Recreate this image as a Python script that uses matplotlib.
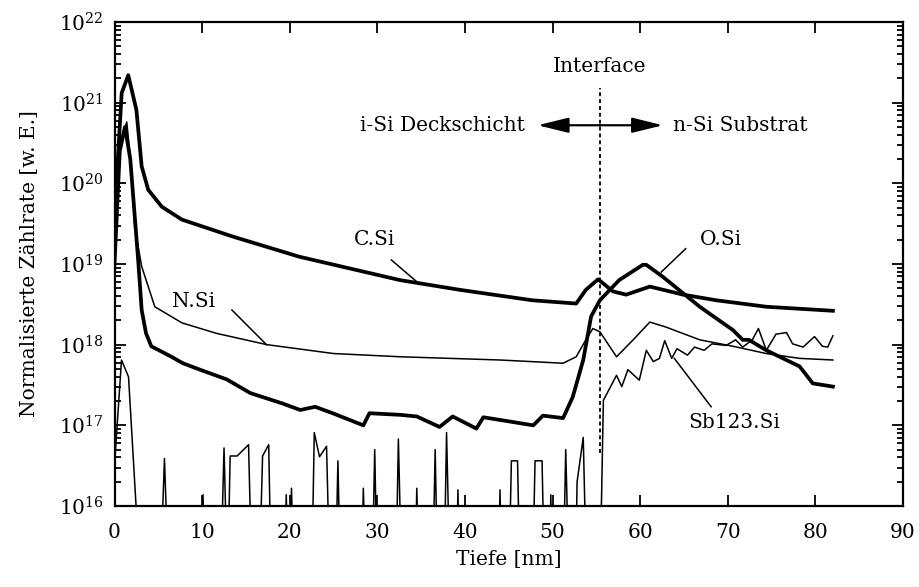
import matplotlib

matplotlib.use("Agg")
import matplotlib.pyplot as plt
from matplotlib.ticker import FixedLocator, NullFormatter
import numpy as np

plt.rcParams["font.family"] = ["DejaVu Serif"]
plt.rcParams["mathtext.fontset"] = "dejavuserif"
plt.rcParams["font.size"] = 14.5

# depth [nm] and log10 of normalised count rate
c_si_x = [0.06, 0.82, 1.57, 2.5, 3.1, 3.85, 5.4, 7.7, 13.5, 21.1, 32.6, 39.4, 47.7,
          52.7, 53.8, 55.2, 56.9, 58.4, 61.1, 64.9, 68.7, 74.4, 82.0]
c_si_log = [19.7, 21.12, 21.34, 20.91, 20.21, 19.92, 19.71, 19.55, 19.34, 19.09,
            18.80, 18.68, 18.55, 18.51, 18.68, 18.81, 18.66, 18.62, 18.72, 18.62,
            18.55, 18.47, 18.42]

o_si_x = [0.0, 0.6, 1.2, 1.8, 2.7, 3.1, 3.6, 4.2, 6.5, 7.8, 9.75, 12.8, 15.5, 19.2,
          21.2, 22.9, 24.9, 28.4, 29.1, 32.6, 34.5, 37.1, 38.6, 41.3, 42.1, 47.8,
          48.9, 51.2, 52.3, 53.5, 54.4, 55.4, 57.6, 60.3, 60.7, 62.6, 66.8, 70.6,
          71.7, 72.4, 74.4, 78.2, 79.7, 82.0]
o_si_log = [19.0, 20.4, 20.7, 20.3, 19.05, 18.43, 18.14, 17.98, 17.85, 17.77, 17.69,
            17.57, 17.40, 17.27, 17.19, 17.23, 17.15, 17.00, 17.15, 17.13, 17.11,
            16.98, 17.11, 16.96, 17.10, 17.00, 17.12, 17.09, 17.35, 17.81, 18.35,
            18.55, 18.80, 18.99, 18.99, 18.84, 18.47, 18.18, 18.06, 18.06, 17.93,
            17.73, 17.52, 17.48]

n_si_x = [0.0, 0.6, 1.4, 1.9, 2.3, 3.1, 4.6, 7.7, 11.65, 17.4, 25.0, 32.6, 44.0,
          51.2, 52.7, 53.8, 54.6, 55.4, 57.3, 59.2, 61.1, 62.9, 66.8, 70.6, 74.4,
          78.2, 82.0]
n_si_log = [19.5, 20.5, 20.76, 20.2, 19.46, 18.97, 18.47, 18.27, 18.14, 18.00,
            17.89, 17.85, 17.81, 17.77, 17.85, 18.06, 18.20, 18.16, 17.85, 18.06,
            18.28, 18.22, 18.06, 17.98, 17.89, 17.83, 17.81]

sb_si_x = [0.06, 0.8, 1.6, 3.0, 5.2, 5.7, 6.2, 9.8, 10.1, 10.4, 12.1, 12.5, 12.9,
           13.2, 14.0, 15.3, 15.7, 16.5, 16.9, 17.6, 17.9, 19.4, 19.6, 19.9, 20.2,
           20.5, 22.5, 22.8, 23.4, 24.2, 24.6, 25.2, 25.5, 25.8, 28.2, 28.4, 28.7,
           29.4, 29.7, 30.0, 32.1, 32.4, 32.8, 34.3, 34.5, 34.8, 36.3, 36.6, 36.9,
           37.6, 37.9, 38.3, 39.0, 39.2, 39.4, 43.8, 44.0, 44.2, 45.0, 45.3, 46.0,
           46.3, 47.7, 48.0, 48.8, 49.1, 49.6, 49.8, 50.0, 51.2, 51.5, 51.9, 52.6,
           52.8, 53.5, 53.9, 55.4, 55.8, 57.3, 57.9, 58.6, 59.9, 60.7, 61.5, 62.2,
           62.8, 63.6, 64.2, 65.4, 66.2, 67.3, 68.2, 69.8, 70.9, 71.7, 72.8, 73.5,
           74.4, 75.5, 76.7, 77.4, 78.6, 79.9, 80.8, 81.4, 82.0]
sb_si_log = [16.61, 17.81, 17.60, 15, 15, 16.59, 15, 15, 16.14, 15, 15, 16.72, 15,
             16.62, 16.62, 16.76, 15, 15, 16.62, 16.76, 15, 15, 16.14, 15, 16.22,
             15, 15, 16.91, 16.61, 16.74, 15, 15, 16.56, 15, 15, 16.22, 15,
             15, 16.70, 15, 15, 16.83, 15, 15, 16.22, 15, 15, 16.70, 15,
             15, 16.91, 15, 15, 16.20, 15, 15, 16.20, 15, 15, 16.56, 16.56,
             15, 15, 16.56, 16.56, 15, 15, 16.14, 15, 15, 16.70, 15, 15,
             16.30, 16.85, 15, 15, 17.31, 17.62, 17.48, 17.69, 17.56, 17.93, 17.79, 17.83,
             18.05, 17.83, 17.95, 17.87, 17.97, 17.93, 18.01, 17.99, 18.06, 17.97, 18.06, 18.20,
             17.93, 18.13, 18.15, 18.01, 17.97, 18.10, 17.98, 17.97, 18.11]

x_ticks = [0, 10, 20, 30, 40, 50, 60, 70, 80, 90]
y_decades = [16, 17, 18, 19, 20, 21, 22]

INTERFACE_NM = 55.4

fig = plt.figure(figsize=(9.19, 5.87), dpi=100)
ax = fig.add_axes([0.1246, 0.138, 0.858, 0.8245])

thick = 2.7
thin = 1.1
ax.plot(c_si_x, 10.0 ** np.array(c_si_log), color="black", linewidth=thick)
ax.plot(o_si_x, 10.0 ** np.array(o_si_log), color="black", linewidth=thick)
ax.plot(n_si_x, 10.0 ** np.array(n_si_log), color="black", linewidth=thin)
ax.plot(sb_si_x, 10.0 ** np.array(sb_si_log), color="black", linewidth=thin)

ax.set_yscale("log")
ax.set_xlim(0, 90)
ax.set_ylim(1e16, 1e22)
ax.xaxis.set_major_locator(FixedLocator(x_ticks))
ax.yaxis.set_major_locator(FixedLocator([10.0 ** d for d in y_decades]))
ax.set_yticklabels([rf"$10^{{{d}}}$" for d in y_decades])
minor = [m * 10.0 ** d for d in y_decades[:-1] for m in range(2, 10)]
ax.yaxis.set_minor_locator(FixedLocator(minor))
ax.yaxis.set_minor_formatter(NullFormatter())
ax.tick_params(which="both", direction="in", top=True, right=True, width=1.3)
ax.tick_params(which="major", length=8, labelsize=14.5)
ax.tick_params(axis="x", which="major", pad=12)
ax.tick_params(axis="y", which="major", pad=8)
ax.tick_params(which="minor", length=4)
for sp in ax.spines.values():
    sp.set_linewidth(1.6)

ax.set_xlabel("Tiefe [nm]", fontsize=14.5, labelpad=6)
ax.set_ylabel("Normalisierte Zählrate [w. E.]", fontsize=14.5, labelpad=14)

# interface marker
ax.plot([INTERFACE_NM, INTERFACE_NM], [4.5e16, 1.5e21], color="black",
        linestyle=(0, (2.2, 1.6)), linewidth=1.3)
ax.text(INTERFACE_NM, 10 ** 21.45, "Interface", ha="center", va="center")
arrow_style = dict(arrowstyle="-|>,head_length=1.3,head_width=0.32",
                   color="black", lw=1.6, shrinkA=0, shrinkB=0)
ax.annotate("", xy=(48.3, 10 ** 20.72), xytext=(INTERFACE_NM, 10 ** 20.72),
            arrowprops=arrow_style)
ax.annotate("", xy=(62.6, 10 ** 20.72), xytext=(INTERFACE_NM, 10 ** 20.72),
            arrowprops=arrow_style)
ax.text(46.8, 10 ** 20.72, "i-Si Deckschicht", ha="right", va="center")
ax.text(63.7, 10 ** 20.72, "n-Si Substrat", ha="left", va="center")

# curve labels with leader lines
labels = [
    ("C.Si", (29.7, 19.30), (31.6, 19.05), (34.5, 18.78)),
    ("N.Si", (9.0, 18.53), (13.4, 18.43), (17.35, 18.0)),
    ("O.Si", (69.2, 19.30), (65.2, 19.19), (62.4, 18.90)),
    ("Sb123.Si", (70.75, 17.03), (68.1, 17.23), (63.9, 17.83)),
]
for name, (tx, ty), (x0, y0), (x1, y1) in labels:
    ax.text(tx, 10 ** ty, name, ha="center", va="center")
    ax.plot([x0, x1], [10 ** y0, 10 ** y1], color="black", linewidth=1.1)

fig.savefig("out.png", dpi=100)
